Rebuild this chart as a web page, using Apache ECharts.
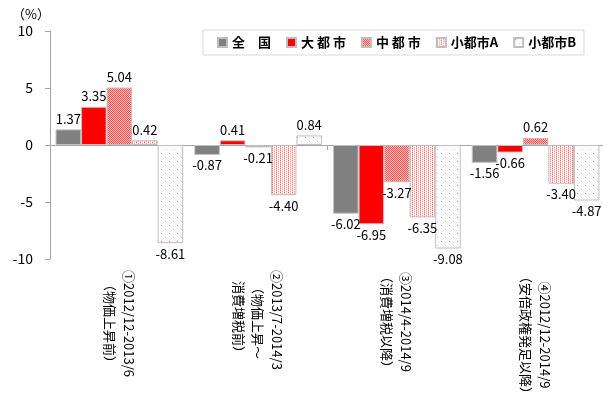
<!DOCTYPE html>
<html><head><meta charset="utf-8">
<script src="https://cdn.jsdelivr.net/npm/echarts@6/dist/echarts.min.js"></script>
<style>html,body{margin:0;padding:0;background:#fff}#c{width:603px;height:396px}</style>
</head><body><div id="c"></div>
<script>
const categories = [
  '①2012/12-2013/6\n（物価上昇前）',
  '②2013/7-2014/3\n（物価上昇～\n消費増税前）',
  '③2014/4-2014/9\n（消費増税以降）',
  '④2012/12-2014/9\n（安倍政権発足以降）'
];
const seriesNames = ['全　国', '大 都 市', '中 都 市', '小都市A', '小都市B'];
const zenkoku   = [1.37, -0.87, -6.02, -1.56];
const daitoshi  = [3.35,  0.41, -6.95, -0.66];
const chutoshi  = [5.04, -0.21, -3.27,  0.62];
const shotoshiA = [0.42, -4.40, -6.35, -3.40];
const shotoshiB = [-8.61, 0.84, -9.08, -4.87];
const yMin = -10, yMax = 10, yInterval = 5;
const yUnit = '（%）';

function makePattern(w, h, bg, pixels) {
  const c = document.createElement('canvas');
  c.width = w; c.height = h;
  const ctx = c.getContext('2d');
  ctx.fillStyle = bg; ctx.fillRect(0, 0, w, h);
  pixels.forEach(p => { ctx.fillStyle = p[2]; ctx.fillRect(p[0], p[1], 1, 1); });
  return { image: c, repeat: 'repeat' };
}
const patMid = makePattern(2, 2, '#ffc4c4', [[0,0,'#ff5050'],[1,1,'#ff5050']]);
const patA = makePattern(4, 2, '#ffffff', [[0,0,'#ff6a6a'],[0,1,'#ffc0c0'],[2,0,'#ffd8d8'],[2,1,'#ff9a9a']]);
const patB = makePattern(8, 8, '#ffffff', [[1,1,'#ff6060'],[5,5,'#ffb0b0']]);

const fills = ['#808080', '#ff0000', patMid, patA, patB];
const valueSets = [zenkoku, daitoshi, chutoshi, shotoshiA, shotoshiB];

const series = seriesNames.map((name, i) => ({
  name: name,
  type: 'bar',
  xAxisIndex: 0,
  barGap: '0%',
  barCategoryGap: '8%',
  itemStyle: { color: fills[i], borderColor: '#bfbfbf', borderWidth: 1 },
  label: {
    show: true, distance: 4, color: '#000', fontSize: 13,
    fontFamily: 'Noto Sans CJK JP',
    formatter: p => Number(p.value).toFixed(2)
  },
  data: valueSets[i].map(v => ({ value: v, label: { position: v >= 0 ? 'top' : 'bottom' } }))
}));

const chart = echarts.init(document.getElementById('c'));
chart.setOption({
  animation: false,
  backgroundColor: '#fff',
  textStyle: { fontFamily: 'Noto Sans CJK JP' },
  grid: { left: 50, right: -2, top: 31, bottom: 137, outerBoundsMode: 'none', containLabel: false },
  legend: {
    left: 203, top: 30, width: 400,
    padding: [6, 8, 6, 14],
    borderColor: '#d9d9d9', borderWidth: 1,
    itemWidth: 9, itemHeight: 9, itemGap: 15,
    icon: 'rect', selectedMode: false,
    textStyle: { fontSize: 13, fontWeight: 'bold', color: '#000', fontFamily: 'Noto Sans CJK JP' },
    data: seriesNames
  },
  xAxis: [
    {
      type: 'category', data: categories,
      axisLine: { show: true, onZero: true, lineStyle: { color: '#a6a6a6' } },
      axisTick: { show: true, length: 5, lineStyle: { color: '#a6a6a6' } },
      axisLabel: { show: false },
      splitLine: { show: false }
    },
    {
      type: 'category', data: categories, position: 'bottom',
      axisLine: { show: false, onZero: false },
      axisTick: { show: false },
      splitLine: { show: false },
      axisLabel: {
        show: true, interval: 0, rotate: -90, align: 'left', verticalAlign: 'middle',
        margin: 11, lineHeight: 19, fontSize: 13, color: '#000', fontFamily: 'Noto Sans CJK JP',
        formatter: v => v.split('\n').map(s => '{c|' + s + '}').join('\n'),
        rich: { c: { align: 'center', fontSize: 13, lineHeight: 19, color: '#000', fontFamily: 'Noto Sans CJK JP' } }
      }
    }
  ],
  yAxis: {
    type: 'value', min: yMin, max: yMax, interval: yInterval,
    name: yUnit, nameLocation: 'end', nameGap: 10,
    nameTextStyle: { align: 'right', fontSize: 13, color: '#000' },
    axisLine: { show: true, lineStyle: { color: '#a6a6a6' } },
    axisTick: { show: true, length: 5, lineStyle: { color: '#a6a6a6' } },
    splitLine: { show: false },
    axisLabel: { fontSize: 14, color: '#000', margin: 17 }
  },
  series: series
});
</script>
</body></html>
